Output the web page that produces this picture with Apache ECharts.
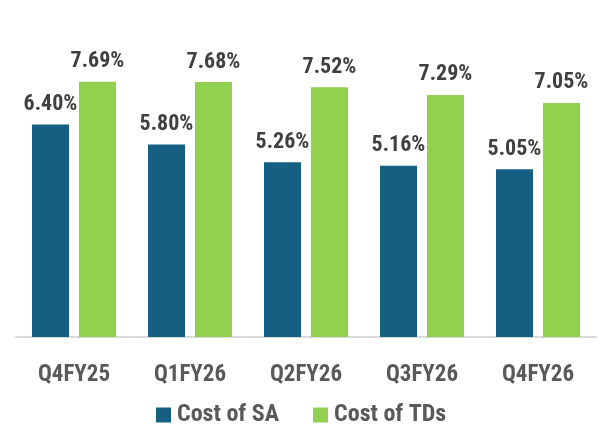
<!DOCTYPE html>
<html><head><meta charset="utf-8">
<script src="https://cdn.jsdelivr.net/npm/echarts@6/dist/echarts.min.js"></script>
<style>html,body{margin:0;padding:0;background:#fff}#c{width:603px;height:426px}</style>
</head><body><div id="c"></div>
<script>
const categories = ['Q4FY25','Q1FY26','Q2FY26','Q3FY26','Q4FY26'];
const costSA = [6.40, 5.80, 5.26, 5.16, 5.05];
const costTD = [7.69, 7.68, 7.52, 7.29, 7.05];
const seriesNames = ['Cost of SA','Cost of TDs'];
const FONT = "'Roboto Condensed','Liberation Sans Narrow','DejaVu Sans Condensed',Roboto,sans-serif";
const chart = echarts.init(document.getElementById('c'));
const lbl = {show:true, position:'top', distance:9, formatter: p => p.value.toFixed(2) + '%',
  color:'#404040', fontSize:22, fontWeight:'bold', fontFamily:FONT};
chart.setOption({
  animation:false,
  grid:{left:16, right:7, top:5, bottom:89},
  legend:{top:403, left:156, itemWidth:15, itemHeight:15, itemGap:34, icon:'rect', padding:0,
    textStyle:{color:'#595959', fontSize:24, fontWeight:'bold', fontFamily:FONT, padding:[0,0,0,1]}},
  xAxis:{type:'category', data:categories,
    axisLine:{lineStyle:{color:'#d9d9d9', width:2}}, axisTick:{show:false},
    axisLabel:{color:'#595959', fontSize:23, fontWeight:'bold', fontFamily:FONT, margin:27}},
  yAxis:{type:'value', min:0, max:10, show:false, splitLine:{show:false}},
  series:[
    {name:seriesNames[0], type:'bar', data:costSA, barWidth:37, barGap:'27%',
     itemStyle:{color:'#156082'}, label:lbl},
    {name:seriesNames[1], type:'bar', data:costTD, barWidth:37,
     itemStyle:{color:'#92d050'}, label:lbl}
  ]
});
</script></body></html>
